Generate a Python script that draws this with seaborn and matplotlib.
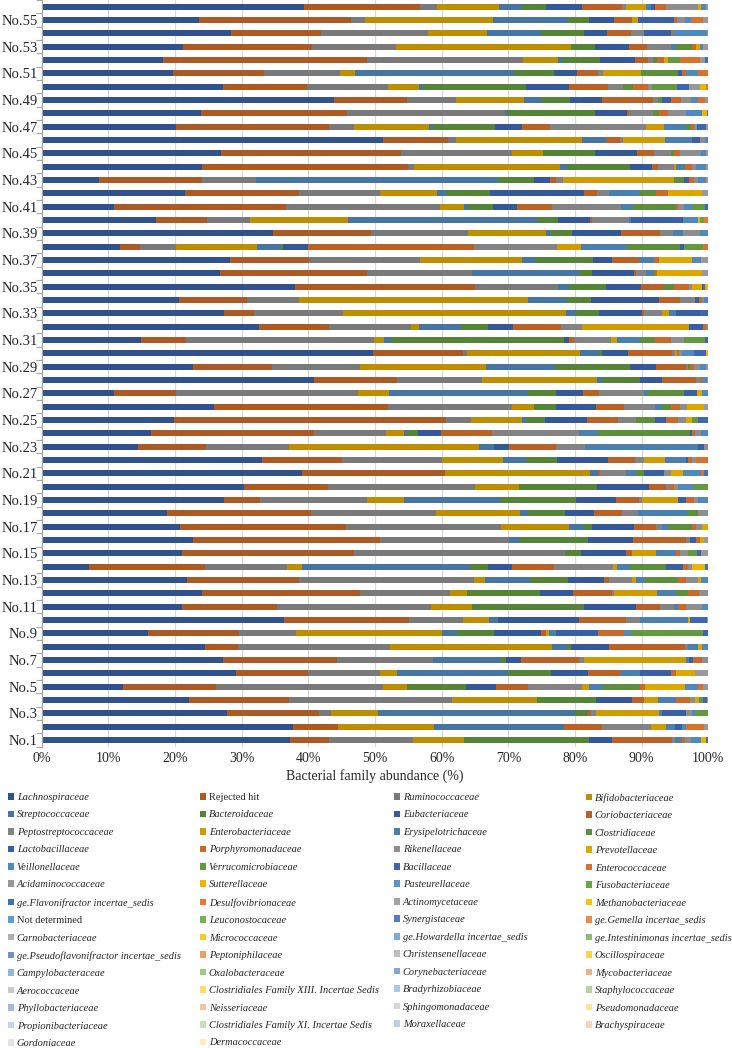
import matplotlib
matplotlib.use("Agg")
import matplotlib.pyplot as plt
from matplotlib.patches import Patch
import numpy as np
import pandas as pd
import seaborn as sns

families = [
    "Lachnospiraceae", "Rejected hit", "Ruminococcaceae", "Bifidobacteriaceae",
    "Streptococcaceae", "Bacteroidaceae", "Eubacteriaceae", "Coriobacteriaceae",
    "Peptostreptococcaceae", "Enterobacteriaceae", "Erysipelotrichaceae", "Clostridiaceae",
    "Lactobacillaceae", "Porphyromonadaceae", "Rikenellaceae", "Prevotellaceae",
    "Veillonellaceae", "Verrucomicrobiaceae", "Bacillaceae", "Enterococcaceae",
    "Acidaminococcaceae", "Sutterellaceae", "Pasteurellaceae", "Fusobacteriaceae",
    "ge.Flavonifractor incertae_sedis", "Desulfovibrionaceae", "Actinomycetaceae", "Methanobacteriaceae",
    "Not determined", "Leuconostocaceae", "Synergistaceae", "ge.Gemella incertae_sedis",
    "Carnobacteriaceae", "Micrococcaceae", "ge.Howardella incertae_sedis", "ge.Intestinimonas incertae_sedis",
    "ge.Pseudoflavonifractor incertae_sedis", "Peptoniphilaceae", "Christensenellaceae", "Oscillospiraceae",
    "Campylobacteraceae", "Oxalobacteraceae", "Corynebacteriaceae", "Mycobacteriaceae",
    "Aerococcaceae", "Clostridiales Family XIII. Incertae Sedis", "Bradyrhizobiaceae", "Staphylococcaceae",
    "Phyllobacteriaceae", "Neisseriaceae", "Sphingomonadaceae", "Pseudomonadaceae",
    "Propionibacteriaceae", "Clostridiales Family XI. Incertae Sedis", "Moraxellaceae", "Brachyspiraceae",
    "Gordoniaceae", "Dermacoccaceae",
]
upright = ["Rejected hit", "Not determined"]

# abundance (%) per sample, in family order (missing tail = 0)
no1 = [37.25, 5.85, 12.55, 7.7, 0, 18.75, 3.5, 8.9, 0.5, 0, 1.0, 0, 0, 0.5, 0.85, 0, 1.55, 0, 0, 0, 0, 0.75, 0, 0, 0.35]
no2 = [37.75, 6.75, 0, 14.35, 19.55, 0, 0, 5.7, 7.3, 2.25, 1.35, 0, 1.1, 0, 0, 0, 0.5, 0, 0, 2.8, 0.6]
no3 = [27.65, 13.7, 1.9, 7.0, 29.35, 1.9, 0, 0.5, 0.75, 9.4, 0.5, 0, 3.5, 0, 0.85, 0, 0.65, 1.75, 0, 0, 0.1]
no4 = [22.1, 15.05, 24.35, 12.75, 0, 8.85, 5.5, 1.75, 0, 2.05, 2.75, 0, 0, 2.1, 0.75, 0.65, 0, 0.6, 0.5, 0, 0.25]
no5 = [12.25, 13.9, 25.1, 3.5, 0, 8.85, 4.55, 4.85, 8.1, 1.0, 2.05, 5.6, 0, 0.75, 0, 6.0, 2.0, 0, 0, 0.75, 0.75]
no6 = [29.15, 10.8, 10.8, 2.55, 16.7, 6.4, 5.6, 4.7, 0, 0, 3.05, 0, 4.65, 0.7, 0, 2.9, 0, 0, 0, 0, 2.0]
no7 = [27.2, 17.05, 14.45, 0, 10.05, 0.95, 2.25, 8.6, 0.85, 15.3, 0.4, 0, 0.65, 1.35, 0.9]
no8 = [24.5, 5.0, 22.8, 24.3, 2.2, 0.65, 5.6, 11.45, 0.45, 0, 1.45, 0, 0, 0, 0, 0.6, 1.0]
no9 = [16.0, 13.65, 8.5, 21.85, 2.25, 5.65, 7.05, 0.65, 0, 0.45, 1.15, 0, 6.3, 3.8, 0, 0, 1.15, 10.8, 0.75]
no10 = [36.3, 18.75, 8.2, 3.85, 1.4, 0, 12.05, 7.15, 2.05, 0, 7.25, 0, 0, 0, 0, 0.3, 0, 0, 2.5, 0, 0.2]
no11 = [21.0, 14.25, 23.15, 6.15, 0, 16.75, 7.8, 3.7, 2.1, 0, 0.5, 0, 0, 1.2, 2.5, 0, 0.9]
no12 = [24.0, 23.8, 13.5, 2.5, 0, 11.0, 4.85, 5.95, 0.3, 6.4, 2.9, 1.7, 0, 1.7, 1.4]
no13 = [21.8, 16.85, 26.25, 1.6, 6.7, 5.75, 5.45, 0.65, 3.55, 0.5, 1.4, 5.0, 0, 1.1, 1.8, 0.5, 1.1]
no14 = [7.15, 17.35, 12.35, 2.25, 25.1, 2.7, 3.7, 6.2, 8.95, 0.55, 2.0, 5.3, 2.6, 0.8, 0.6, 0, 0, 0, 0, 0, 0, 1.9, 0, 0, 0.5]
no15 = [21.0, 25.8, 31.7, 0, 0, 2.4, 6.7, 0.9, 0, 3.7, 2.9, 0, 0, 0.6, 1.3, 0, 0, 1.3, 0.6, 0, 1.1]
no16 = [22.7, 28.0, 19.4, 0, 1.65, 10.15, 6.75, 7.95, 0.65, 0, 0, 0, 0.85, 0.6, 0, 0.7, 0, 0, 0, 0, 0.6]
no17 = [20.8, 24.8, 23.25, 10.25, 2.3, 1.1, 6.4, 3.2, 1.0, 0, 0.8, 3.7, 0, 0.5, 1.0, 0.9]
no18 = [18.85, 21.55, 18.7, 12.65, 1.15, 5.6, 4.4, 4.1, 2.4, 0, 7.4, 1.6, 0, 0, 1.6]
no19 = [27.3, 5.4, 16.1, 5.6, 14.3, 11.4, 6.1, 3.35, 0.55, 5.4, 0, 0, 1.1, 1.3, 0.5, 0, 1.6]
no20 = [30.5, 12.65, 22.15, 6.6, 0, 11.7, 7.9, 2.55, 0.5, 0, 0, 0, 0, 0.6, 0.6, 0, 2.3, 2.3]
no21 = [39.1, 21.4, 0, 21.7, 1.2, 0, 0, 0.4, 3.8, 0, 1.6, 1.2, 3.0, 0, 1.0, 1.8, 2.7, 0, 0, 0.5, 0, 0, 0, 0, 0.6]
no22 = [33.1, 12.0, 14.95, 9.15, 3.5, 4.6, 7.6, 4.1, 1.4, 3.1, 3.1, 0, 0.3, 0.6, 0.6, 0, 0, 0, 0, 1.9]
no23 = [14.4, 10.3, 12.35, 28.6, 2.25, 0, 2.2, 7.1, 4.3, 0, 16.9, 0, 1.0, 0, 0.6]
no24 = [16.35, 24.45, 10.8, 2.8, 0.45, 1.65, 3.4, 7.7, 12.95, 0, 2.95, 13.8, 0.3, 0.4, 0.9, 0, 1.1]
no25 = [19.9, 40.7, 3.8, 7.7, 0.5, 2.9, 6.3, 4.6, 2.7, 0, 0, 2.9, 1.6, 1.9, 1.1, 0.9, 0, 0.9, 1.6]
no26 = [25.9, 26.1, 18.5, 3.4, 0, 3.2, 6.0, 4.2, 4.7, 0, 1.0, 1.4, 0, 1.4, 1.0, 2.5, 0, 0, 0, 0, 0.7]
no27 = [10.9, 9.25, 27.35, 4.65, 20.75, 4.3, 4.0, 2.4, 6.8, 0, 0.6, 5.4, 1.9, 0, 0, 0.7, 1.0]
no28 = [40.8, 12.5, 12.7, 17.3, 0.8, 5.65, 3.35, 5.1, 0.5, 0, 0, 0, 0, 0.3, 0, 0, 0.8, 0, 0, 0, 0.2]
no29 = [22.7, 11.9, 13.2, 18.8, 10.4, 11.3, 3.8, 4.5, 0.3, 0, 0, 0.3, 0, 0.7, 0.8, 0, 1.0, 0, 0, 0, 0.3]
no30 = [49.9, 13.55, 0.6, 16.9, 2.9, 0.45, 3.95, 6.65, 0.45, 0.3, 0, 0, 0, 0.3, 0.4, 0, 1.75, 0, 1.9, 0, 0, 0.3]
no31 = [14.9, 6.7, 28.3, 1.5, 0.95, 26.05, 0.75, 0.75, 5.5, 0.9, 3.45, 2.25, 0, 2.4, 2.0, 0, 0, 3.05, 0.55]
no32 = [32.6, 10.45, 12.3, 1.3, 6.3, 3.95, 3.75, 7.2, 3.25, 16.0, 0, 0, 2.15, 0.4, 0.35]
no33 = [27.3, 4.6, 13.3, 33.5, 1.4, 3.5, 6.5, 0.3, 2.7, 0.95, 1.15, 0, 3.5, 0, 0, 0, 0, 0, 1.3]
no34 = [20.65, 10.25, 7.75, 34.35, 5.95, 3.6, 10.2, 3.1, 2.25, 0, 0, 0, 0.6, 0.5, 0.3, 0, 0.6]
no35 = [38.0, 27.0, 12.4, 0, 1.7, 5.5, 5.3, 3.5, 0, 0, 0, 1.4, 0, 2.3, 0.5, 1.4, 0, 0, 0.5, 0, 0, 0.5]
no36 = [26.75, 22.05, 15.75, 0, 16.0, 1.95, 6.4, 0.2, 1.6, 0, 1.0, 0.3, 0, 0.3, 0, 6.8, 0, 0, 0, 0, 0.9]
no37 = [28.25, 11.85, 16.7, 15.3, 1.9, 8.7, 2.9, 4.0, 0, 0, 2.2, 0, 0, 0.8, 0, 4.9, 1.4, 0, 0, 0, 1.1]
no38 = [11.7, 3.05, 5.35, 12.15, 3.7, 0.25, 3.7, 25.0, 12.45, 3.55, 6.9, 8.0, 0.6, 0, 0, 0, 0, 2.8, 0, 0.8]
no39 = [34.7, 14.7, 14.5, 11.7, 0.85, 3.05, 7.35, 5.95, 1.95, 0, 1.45, 0, 0, 0, 2.5, 0, 1.3]
no40 = [17.1, 7.7, 6.4, 14.8, 28.3, 3.2, 4.7, 0.3, 5.6, 0, 0.35, 0, 7.75, 0, 0, 0, 2.2, 0, 0, 0, 0, 0.4, 0, 0.6, 0, 0.6]
no41 = [10.8, 25.9, 23.0, 3.6, 0.6, 3.8, 3.6, 5.3, 10.3, 0, 1.75, 6.55, 0, 0.3, 0.9, 0, 1.2, 1.9, 0.5]
no42 = [21.55, 17.1, 12.05, 8.65, 1.25, 6.7, 14.1, 1.9, 1.8, 0, 4.65, 2.45, 0, 1.7, 0, 5.2, 0, 0, 0, 0, 0.9]
no43 = [8.6, 15.45, 8.15, 0, 36.3, 5.3, 2.5, 0.9, 1.0, 16.6, 0, 1.5, 0.8, 0.8, 0.5, 0, 1.3, 0, 0, 0, 0.3]
no44 = [24.05, 30.95, 0.9, 21.8, 1.1, 9.5, 3.2, 0.9, 2.5, 0.3, 1.3, 0, 0, 1.1, 0.6, 0, 1.5, 0, 0, 0, 0.3]
no45 = [26.95, 26.95, 16.7, 4.6, 0, 7.8, 6.3, 2.5, 2.6, 0, 0, 0.4, 0, 0.9, 3.2, 0, 0.8, 0, 0, 0, 0.3]
no46 = [51.2, 9.75, 1.25, 18.9, 3.5, 0, 0, 2.1, 0.5, 6.3, 4.0, 0, 1.2, 0, 0.8, 0, 0.5]
no47 = [20.1, 23.1, 3.7, 11.2, 0.6, 9.4, 4.0, 4.2, 14.5, 2.7, 3.2, 0.8, 0, 0.4, 0.5, 0, 0, 0, 1.4, 0, 0.3]
no48 = [23.9, 21.85, 23.75, 0, 0.35, 13.15, 4.75, 0.4, 3.6, 0, 0, 0.85, 0, 1.3, 2.75, 0, 2.35, 0, 0, 0, 0, 0.75, 0, 0, 0.25]
no49 = [43.9, 10.95, 7.3, 10.2, 2.5, 4.4, 4.85, 7.65, 0.75, 0, 0, 0.6, 1.3, 1.45, 1.5, 0, 1.15, 0, 0, 1.0, 0.5]
no50 = [27.25, 12.5, 12.25, 4.6, 0.65, 15.35, 6.5, 5.9, 2.25, 0, 0, 1.4, 0, 2.25, 0.6, 0, 0, 3.75, 1.9, 0, 1.6, 0.9, 0, 0, 0, 0.35]
no51 = [19.75, 13.6, 11.4, 2.25, 23.85, 6.05, 3.35, 3.25, 0.75, 5.6, 0, 5.65, 0.5, 0.65, 0, 0, 1.85, 0, 0, 1.5]
no52 = [18.25, 30.5, 23.5, 5.15, 0.6, 5.75, 5.25, 2.0, 0.75, 0, 0, 0.6, 0, 1.0, 0, 0.55, 0, 1.85, 0, 3.0, 0.75, 0, 0, 0, 0.5]
no53 = [21.15, 19.45, 12.55, 26.3, 0, 3.6, 5.05, 2.65, 3.65, 0, 0.75, 2.35, 0, 0.65, 0, 0.6, 0.5, 0, 0, 0, 0.75]
no54 = [28.4, 13.45, 16.15, 8.75, 8.1, 6.45, 3.5, 3.6, 2.0, 0, 0, 0, 3.95, 0.3, 0, 0, 5.1, 0, 0, 0, 0.25]
no55 = [23.65, 22.75, 2.1, 19.25, 11.25, 3.1, 3.8, 2.7, 0, 0.9, 0, 0, 5.35, 0.5, 1.15, 0, 0.85, 0, 0, 1.9, 0.75]
no56 = [39.4, 17.4, 2.5, 9.4, 3.35, 3.6, 5.5, 6.0, 0.5, 3.05, 0.7, 0, 0.65, 1.65, 4.85, 0.4, 0.75, 0, 0, 0, 0.35]

samples = [no1, no2, no3, no4, no5, no6, no7, no8, no9, no10, no11, no12, no13, no14,
           no15, no16, no17, no18, no19, no20, no21, no22, no23, no24, no25, no26, no27, no28,
           no29, no30, no31, no32, no33, no34, no35, no36, no37, no38, no39, no40, no41, no42,
           no43, no44, no45, no46, no47, no48, no49, no50, no51, no52, no53, no54, no55, no56]
names = [f"No.{i}" for i in range(1, len(samples) + 1)]

rows = [s + [0] * (len(families) - len(s)) for s in samples]
df = pd.DataFrame(rows, index=names, columns=families)
df = df.div(df.sum(axis=1), axis=0) * 100  # 100% stacked
cum = df.cumsum(axis=1)

# excel-like palette: 6 accent hues, dark -> light across the series
accents = ["#4472C4", "#ED7D31", "#A5A5A5", "#FFC000", "#5B9BD5", "#70AD47"]
colors = []
for i in range(len(families)):
    rgb = np.array(matplotlib.colors.to_rgb(accents[i % 6]))
    if i <= 27:
        f = 0.71 + 0.29 * i / 27
        rgb = rgb * f
    else:
        t = 0.72 * (i - 27) / (len(families) - 28)
        rgb = rgb + (1 - rgb) * t
    colors.append(rgb)

sns.set_theme(style="white")
plt.rcParams["font.family"] = ["Liberation Serif", "DejaVu Serif"]

fig, ax = plt.subplots(figsize=(7.32, 10.48), dpi=100)
fig.subplots_adjust(left=0.057, right=0.9676, top=1.0, bottom=0.2875)

order = names[::-1]
for j in reversed(range(len(families))):
    sns.barplot(x=cum.iloc[:, j].values, y=cum.index, order=order, orient="h",
                color=colors[j], saturation=1, width=0.47, errorbar=None,
                linewidth=0, ax=ax)

ax.set_xlim(0, 100)
ax.set_ylim(len(names) - 0.5, -0.5)
ax.set_xticks(range(0, 101, 10))
ax.set_xticklabels([f"{v}%" for v in range(0, 101, 10)], fontsize=10)
ax.set_yticks(range(len(order)))
ax.set_yticklabels([n if int(n[3:]) % 2 == 1 else "" for n in order], fontsize=10.5)
ax.set_yticks(np.arange(-0.5, len(order), 1), minor=True)
ax.tick_params(axis="y", which="major", length=0, pad=3)
ax.tick_params(axis="y", which="minor", length=4, color="#A6A6A6", width=0.8, left=True)
ax.tick_params(axis="x", length=0, pad=4)
ax.xaxis.grid(True, color="#D9D9D9", linewidth=0.9)
ax.set_axisbelow(True)
for side in ["top", "right", "bottom"]:
    ax.spines[side].set_visible(False)
ax.spines["left"].set_color("#A6A6A6")
ax.spines["left"].set_linewidth(0.9)
ax.set_ylabel("")
ax.set_xlabel("Bacterial family abundance (%)", fontsize=10, labelpad=3)

handles = [Patch(facecolor=colors[i], edgecolor="none", label=families[i])
           for i in range(len(families))]
col_x = [8 / 732, 200 / 732, 394 / 732, 586 / 732]
for c in range(4):
    hs = handles[c::4]
    leg = fig.legend(handles=hs, loc="upper left", bbox_to_anchor=(col_x[c], 1 - 793 / 1048),
                     frameon=False, fontsize=7.45, handlelength=0.6, handleheight=0.6,
                     handletextpad=0.25, labelspacing=0.82, borderpad=0, borderaxespad=0)
    for txt in leg.get_texts():
        if txt.get_text() not in upright:
            txt.set_fontstyle("italic")

fig.savefig("out.png", dpi=100)
